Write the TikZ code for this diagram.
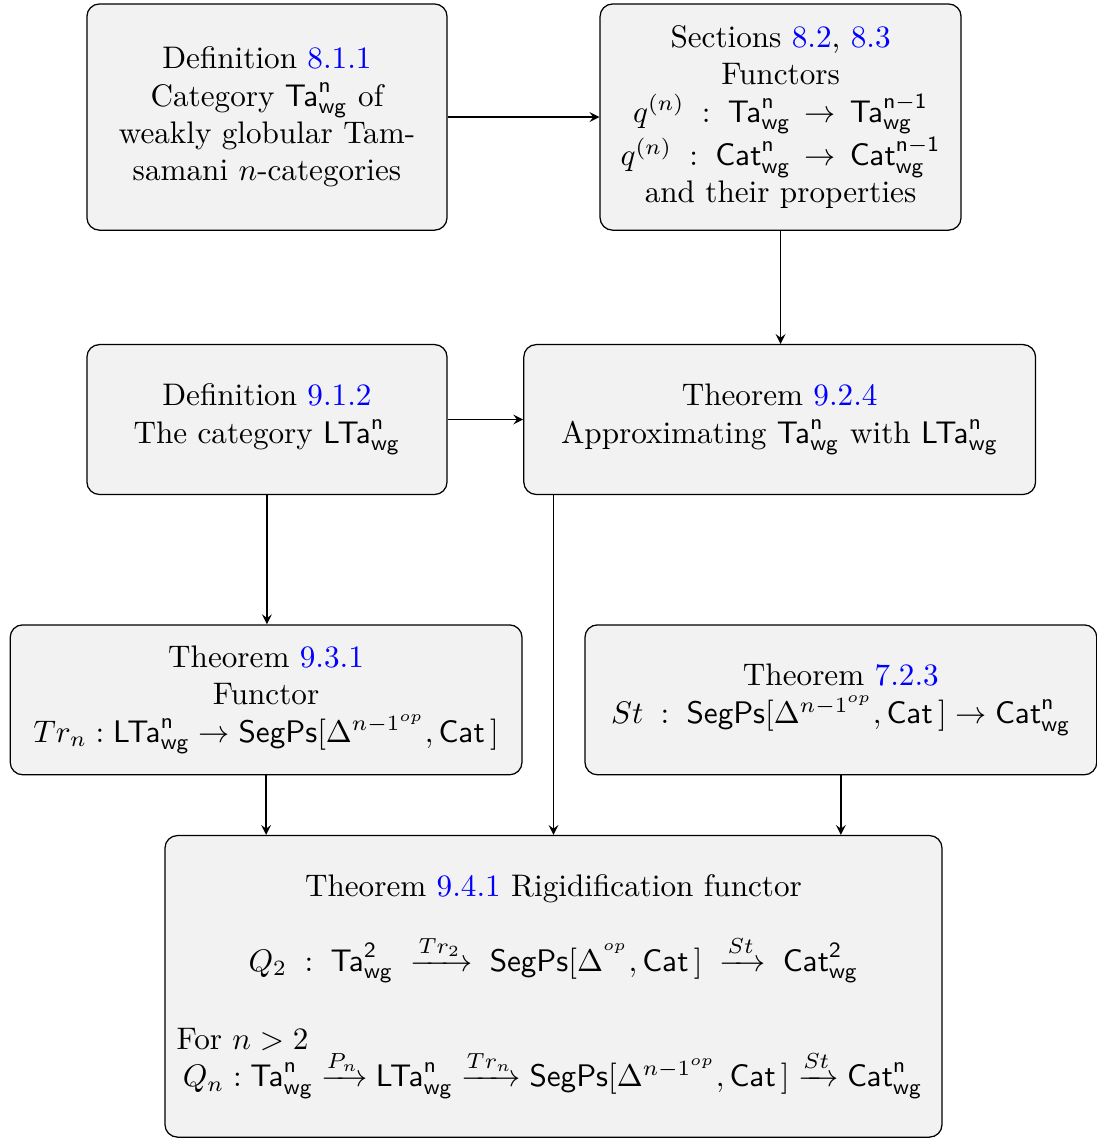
\documentclass[tikz,border=0pt]{standalone}
\usepackage{amsmath,amssymb}
\usepackage{tikz}

\definecolor{refblue}{rgb}{0,0,1}
\newcommand{\Tawg}[1]{\mathsf{Ta}^{\mathsf{#1}}_{\mathsf{wg}}}
\newcommand{\LTawg}[1]{\mathsf{LTa}^{\mathsf{#1}}_{\mathsf{wg}}}
\newcommand{\Catwg}[1]{\mathsf{Cat}^{\mathsf{#1}}_{\mathsf{wg}}}
\newcommand{\SegPsCat}[1]{\mathsf{SegPs}[\Delta^{#1},\mathsf{Cat}\,]}
\newcommand{\xto}[1]{\xrightarrow{\mkern-2mu#1\mkern-2mu}}
\newcommand{\rf}[1]{\textcolor{refblue}{#1}}

\tikzset{
  resbox/.style={draw, rounded corners=4pt, fill=gray!10, align=center,
    inner sep=3.5pt},
}

\begin{document}
\begin{tikzpicture}[>=stealth]
    \useasboundingbox (0,0) rectangle (12.36,-12.83);

    \node [resbox, minimum width=4.06cm, minimum height=2.55cm] (defta) at (3.01,-1.32)
        {Definition \rf{8.1.1}\\ Category $\Tawg{n}$ of\\ weakly globular Tam-\\samani $n$-categories};
    \node [resbox, minimum width=4.07cm, minimum height=2.55cm] (secq) at (8.80,-1.32)
        {Sections \rf{8.2}, \rf{8.3}\\ Functors\\
         $q^{(n)}\;:\;\Tawg{n}\,\rightarrow\,\Tawg{n-1}$\\
         $q^{(n)}\;:\;\Catwg{n}\,\rightarrow\,\Catwg{n-1}$\\
         and their properties};

    \node [resbox, minimum width=4.06cm, minimum height=1.69cm] (deflta) at (3.01,-4.73)
        {Definition \rf{9.1.2}\\ The category $\LTawg{n}$};
    \node [resbox, minimum width=5.77cm, minimum height=1.69cm] (thmapprox) at (8.79,-4.73)
        {Theorem \rf{9.2.4}\\ Approximating $\Tawg{n}$ with $\LTawg{n}$};

    \node [resbox, minimum width=5.77cm, minimum height=1.69cm] (thmtr) at (3.00,-7.89)
        {Theorem \rf{9.3.1}\\ Functor\\ $Tr_n:\LTawg{n}\rightarrow\SegPsCat{n-1^{op}}$};
    \node [resbox, minimum width=5.77cm, minimum height=1.69cm] (thmst) at (9.48,-7.89)
        {Theorem \rf{7.2.3}\\ $St\;:\;\SegPsCat{n-1^{op}}\rightarrow\Catwg{n}$};

    \node [resbox, minimum width=8.76cm, minimum height=3.40cm, text width=8.5cm] (thmrig) at (6.24,-11.12)
        {\centering Theorem \rf{9.4.1} Rigidification functor\\[0.95em]
         $Q_2\;:\;\Tawg{2}\;\xrightarrow{Tr_2}\;\SegPsCat{^{op}}\;\xrightarrow{St}\;\Catwg{2}$\par
         \vspace{1.3em}
         \raggedright For $n>2$\\
         \hbox{\hspace{2pt}$Q_n:\Tawg{n}\xto{P_n}\LTawg{n}\xto{Tr_n}\SegPsCat{n-1^{op}}\xto{St}\Catwg{n}$}\par};

    \draw [->] (defta.east) -- (secq.west);
    \draw [->] (deflta.east) -- (thmapprox.west);
    \draw [->] (secq.south) -- (secq.south |- thmapprox.north);
    \draw [->] (deflta.south) -- (deflta.south |- thmtr.north);
    \draw [->] (thmtr.south) -- (thmtr.south |- thmrig.north);
    \draw [->] (thmapprox.south -| thmrig.north) -- (thmrig.north);
    \draw [->] (thmst.south) -- (thmst.south |- thmrig.north);
\end{tikzpicture}
\end{document}
